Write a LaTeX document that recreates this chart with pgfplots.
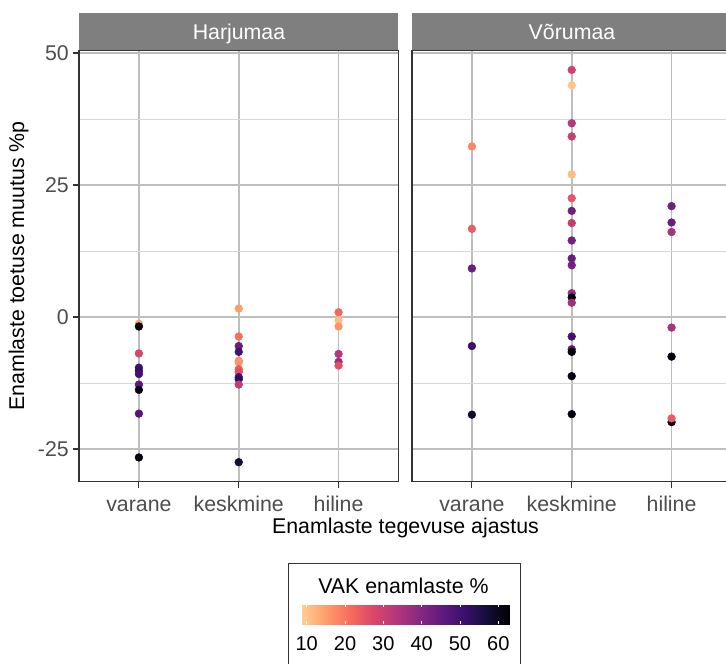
\documentclass[border=0pt]{standalone}
\usepackage{pgfplots}
\pgfplotsset{compat=1.18}
\usepackage{pgfplotstable}
\usepackage{fontspec}
\setmainfont{Liberation Sans}
\definecolor{stripgray}{RGB}{127,127,127}
\definecolor{majgrid}{RGB}{190,190,190}
\definecolor{mingrid}{RGB}{216,216,216}
\definecolor{ticktext}{RGB}{77,77,77}
\definecolor{frame}{RGB}{51,51,51}
\pgfplotsset{colormap={magmar}{rgb255=(254,207,146) rgb255=(254,159,109) rgb255=(247,112,92) rgb255=(222,73,104) rgb255=(183,55,121) rgb255=(140,41,129) rgb255=(100,26,128) rgb255=(59,15,112) rgb255=(20,14,54) rgb255=(0,0,4)}}

\pgfplotstableread{
x y c
1 -1.3 15
1 -1.8 62
1 -6.9 28
1 -9.6 50
1 -10.2 52
1 -10.8 50
1 -12.8 46
1 -13.8 61
1 -18.3 47
1 -26.6 62
2 1.6 15
2 -3.7 21
2 -5.5 44
2 -6.6 50
2 -8.3 17
2 -8.6 16
2 -9.9 24
2 -10.4 26
2 -11.4 50
2 -11.8 53
2 -12.8 31
2 -27.5 57
3 0.9 22
3 -0.6 11
3 -1.8 16
3 -7.0 33
3 -8.5 37
3 -9.2 26
}\harju

\pgfplotstableread{
x y c
1 32.3 18
1 16.7 24
1 9.2 44
1 -5.5 51
1 -18.5 58
2 46.8 29
2 43.9 10
2 36.7 33
2 34.2 30
2 27.0 11
2 22.5 25
2 20.1 43
2 17.8 31
2 14.5 43
2 11.1 44
2 9.8 42
2 4.5 37
2 3.7 62
2 2.7 36
2 -3.7 50
2 -6.1 46
2 -6.6 62
2 -11.2 62
2 -18.4 62
3 21.0 43
3 17.9 44
3 16.1 35
3 -2.0 35
3 -7.5 62
3 -19.9 62
3 -19.2 24
}\voru

\pgfplotsset{
  panel/.style={
    anchor=south west, scale only axis,
    width=239.6pt, height=323.5pt,
    xmin=0.4, xmax=3.6, ymin=-31.2, ymax=50.5,
    xtick={1,2,3}, xticklabels={varane,keskmine,hiline},
    ytick={-25,0,25,50}, minor ytick={-12.5,12.5,37.5},
    grid=both,
    major grid style={majgrid, line width=1.2pt},
    minor grid style={mingrid, line width=0.6pt},
    minor tick length=0pt,
    tick pos=left, tick align=outside, major tick length=4.5pt,
    tick style={frame, line width=0.8pt},
    axis line style={frame, line width=0.9pt},
    xticklabel style={font=\fontsize{16}{19}\selectfont, text=ticktext, text height=11.5pt, inner sep=0pt, anchor=north, yshift=-6pt},
    yticklabel style={font=\fontsize{16}{19}\selectfont, text=ticktext, inner sep=0pt, anchor=east, xshift=-3pt},
    colormap name=magmar, point meta min=8.7, point meta max=63.05,
  },
  pts/.style={scatter, only marks, mark=*, mark size=2.9pt, point meta=explicit,
    scatter/use mapped color={draw=mapped color, fill=mapped color}}
}

\begin{document}
\begin{tikzpicture}
\useasboundingbox (0,0) rectangle (544.5pt,498pt);

\begin{axis}[panel, name=p1, at={(59.25pt,136.7pt)},
  yticklabels={-25,0,25,50}]
\addplot[pts] table[x=x, y=y, meta=c] {\harju};
\end{axis}

\begin{axis}[panel, name=p2, at={(309pt,136.7pt)},
  yticklabels={}, ytick style={draw=none}]
\addplot[pts] table[x=x, y=y, meta=c] {\voru};
\end{axis}

% strips
\fill[stripgray] ([yshift=0.45pt]p1.north west) rectangle ([yshift=28.3pt]p1.north east);
\fill[stripgray] ([yshift=0.45pt]p2.north west) rectangle ([yshift=28.3pt]p2.north east);
\node[anchor=base, white, font=\fontsize{16}{19}\selectfont] at (179.25pt,468pt) {Harjumaa};
\node[anchor=base, white, font=\fontsize{16}{19}\selectfont] at (429pt,468pt) {Võrumaa};

% axis titles
\node[anchor=base, font=\fontsize{16}{19}\selectfont] at (304.1pt,98pt) {Enamlaste tegevuse ajastus};
\node[anchor=base, rotate=90, font=\fontsize{16}{19}\selectfont] at (18pt,298.5pt) {Enamlaste toetuse muutus \%p};

% legend
\draw[frame, line width=0.7pt] (216.2pt,75.75pt) rectangle (390pt,-5pt);
\node[anchor=base, font=\fontsize{16}{19}\selectfont] at (302.6pt,53pt) {VAK enamlaste \%};

\begin{axis}[at={(226.3pt,38.5pt)}, anchor=south west, scale only axis,
  width=156.2pt, height=15.5pt, hide axis,
  xmin=0, xmax=1, ymin=0, ymax=1,
  colormap name=magmar, point meta min=8.7, point meta max=63.05,
  colorbar horizontal,
  colorbar style={at={(parent axis.south west)}, anchor=south west,
    scale only axis, width=156.2pt, height=15.5pt,
    xtick={10,20,30,40,50,60}, xticklabels={10,20,30,40,50,60},
    xtick pos=both, xtick align=inside, major tick length=2.5pt,
    tick style={white, line width=0.6pt},
    axis line style={draw=none},
    xticklabel pos=lower,
    xticklabel style={font=\fontsize{15}{18}\selectfont, text=black, text height=10.7pt, inner sep=0pt, anchor=north, yshift=-9.2pt},
  }]
\end{axis}
\end{tikzpicture}
\end{document}
